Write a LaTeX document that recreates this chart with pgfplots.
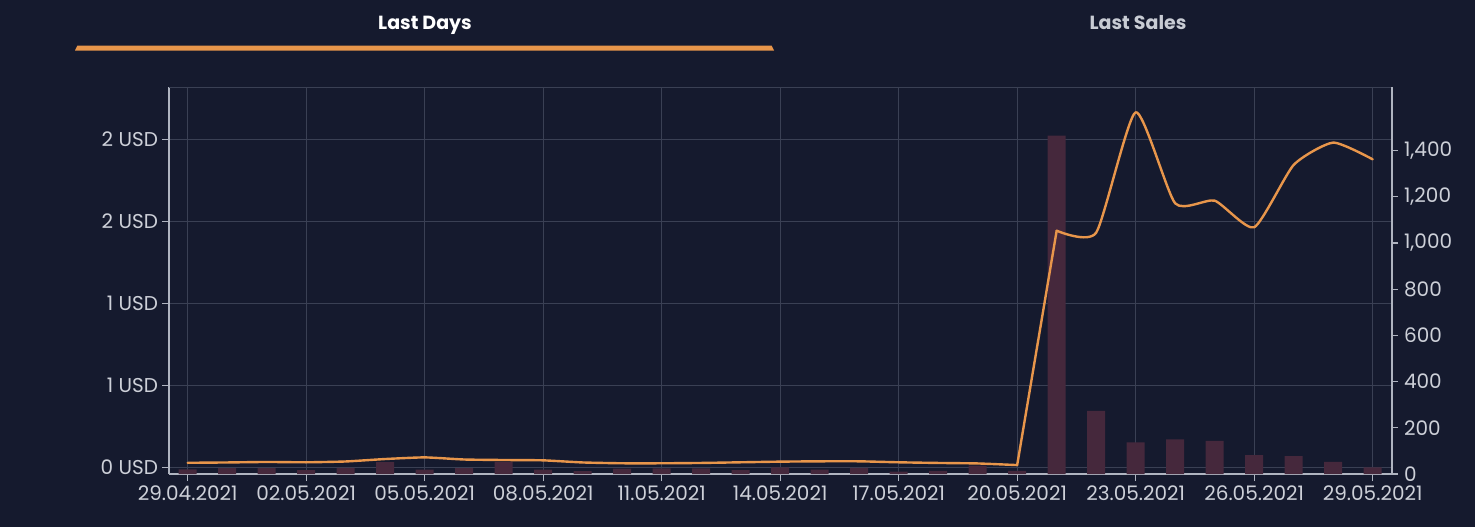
\documentclass[border=0pt]{standalone}
\usepackage{pgfplots}
\pgfplotsset{compat=1.18}
\usepackage{fontspec}
\setmainfont{Poppins}
\definecolor{bgc}{RGB}{21,26,46}
\definecolor{barc}{RGB}{69,40,60}
\definecolor{linec}{RGB}{232,150,75}
\definecolor{gridc}{RGB}{58,64,84}
\definecolor{axisc}{RGB}{175,180,192}
\definecolor{labelc}{RGB}{205,208,216}
\definecolor{tabgrey}{RGB}{200,204,212}

\pgfplotstableread{
idx vol
0 20
1 25
2 25
3 17
4 27
5 51
6 19
7 25
8 53
9 19
10 13
11 23
12 24
13 24
14 17
15 29
16 19
17 27
18 10
19 14
20 36
21 14
22 1465
23 273
24 137
25 150
26 143
27 82
28 77
29 53
30 29
}\voltable

% price, split at the turning points so the curve does not overshoot
\pgfplotstableread{
idx price
0 0.030
1 0.032
2 0.035
3 0.033
4 0.038
5 0.053
6 0.063
7 0.050
8 0.047
9 0.045
10 0.032
11 0.027
12 0.027
13 0.029
14 0.033
15 0.037
16 0.039
17 0.039
18 0.033
19 0.029
20 0.026
21 0.016
}\priceA
\pgfplotstableread{
idx price
21 0.016
22 1.445
}\priceB
\pgfplotstableread{
idx price
22 1.445
23 1.433
24 2.167
25 1.612
26 1.628
27 1.466
28 1.846
29 1.982
30 1.880
}\priceC

\pgfplotsset{
  common/.style={
    at={(84.5pt,26.5pt)}, anchor=south west, scale only axis,
    width=611.5pt, height=193.5pt,
    xmin=-0.473, xmax=30.49,
    tick align=outside, major tick length=3.5pt,
    tick style={axisc, line width=0.6pt},
    axis line style={axisc, line width=0.6pt},
    ticklabel style={font=\fontsize{10}{12}\selectfont, text=labelc},
  }
}

\begin{document}
\begin{tikzpicture}
\useasboundingbox (0,0) rectangle (737.5pt,263.5pt);
\fill[bgc] (0,0) rectangle (737.5pt,263.5pt);
% tabs
\node[anchor=base, font=\fontsize{9.5}{11}\selectfont\bfseries, text=white] at (212.5pt,248.9pt) {Last Days};
\node[anchor=base, font=\fontsize{9.5}{11}\selectfont\bfseries, text=tabgrey] at (569pt,248.9pt) {Last Sales};
\fill[linec] (37.5pt,238.25pt) -- (38.7pt,240.75pt) -- (385.8pt,240.75pt) -- (387pt,238.25pt) -- cycle;

% grid / left axis
\begin{axis}[common,
  ymin=-0.0384, ymax=2.321,
  axis x line*=bottom, axis y line*=left,
  xtick={0,3,...,30},
  xticklabels={29.04.2021,02.05.2021,05.05.2021,08.05.2021,11.05.2021,14.05.2021,17.05.2021,20.05.2021,23.05.2021,26.05.2021,29.05.2021},
  ytick={0,0.5,1,1.5,2},
  yticklabels={0 USD,1 USD,1 USD,2 USD,2 USD},
  grid=major, grid style={gridc, line width=0.5pt},
  xticklabel style={yshift=1pt},
  yticklabel style={xshift=1.5pt},
]
\addplot[draw=none] coordinates {(0,0)};
\draw[gridc, line width=0.5pt] (rel axis cs:0,1) -- (rel axis cs:1,1);
\end{axis}

% bars / right axis
\begin{axis}[common,
  ymin=0, ymax=1675.8,
  axis x line=none, axis y line*=right,
  ytick={0,200,...,1400},
  yticklabels={0,200,400,600,800,{1,000},{1,200},{1,400}},
  major tick length=3pt,
  yticklabel style={xshift=-0.5pt},
  ybar, bar width=9pt,
]
\addplot[fill=barc, draw=none] table[x=idx, y=vol] {\voltable};
\end{axis}

% price line
\begin{axis}[common,
  ymin=-0.0384, ymax=2.321, hide axis,
]
\addplot[linec, line width=1.2pt, smooth, tension=0.3, line join=round, line cap=round] table[x=idx, y=price] {\priceA};
\addplot[linec, line width=1.2pt, line join=round, line cap=round] table[x=idx, y=price] {\priceB};
\addplot[linec, line width=1.2pt, smooth, tension=0.35, line join=round, line cap=round] table[x=idx, y=price] {\priceC};
\end{axis}
\end{tikzpicture}
\end{document}
